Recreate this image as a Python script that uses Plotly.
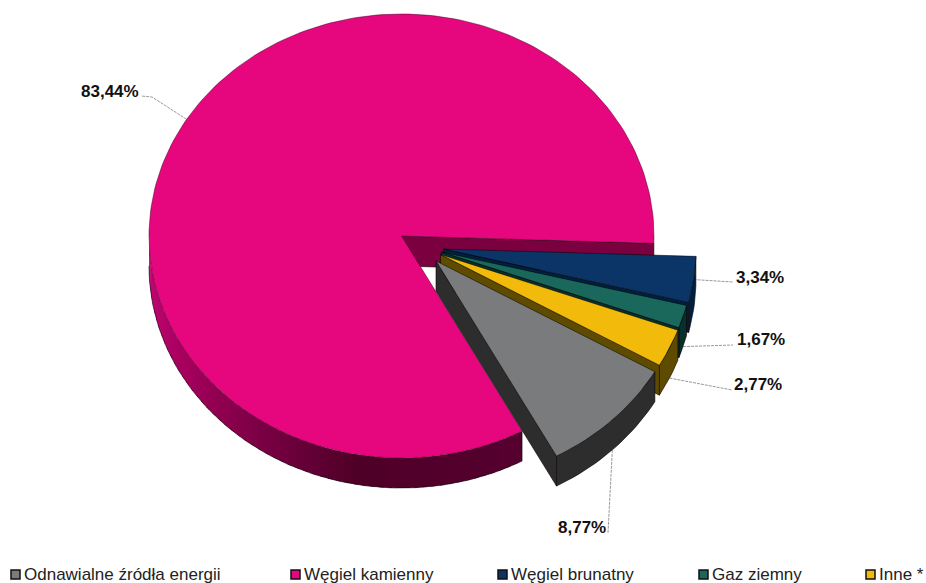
import math
import plotly.graph_objects as go

# Shares of electricity generation by source
slice_names = ["Węgiel kamienny", "Odnawialne źródła energii", "Inne *", "Gaz ziemny", "Węgiel brunatny"]
slice_values = [83.44, 8.77, 2.77, 1.67, 3.34]
top_colors = ["#E6077F", "#7A7B7D", "#F2BA0B", "#1A675C", "#0A3566"]
wall_colors = ["#7A0040", "#2D2D2D", "#5F4B00", "#07302A", "#01203F"]
legend_order = ["Odnawialne źródła energii", "Węgiel kamienny", "Węgiel brunatny", "Gaz ziemny", "Inne *"]

# Projected pie geometry, in page pixels
CX, CY, RX, RY, DEPTH = 401.5, 236, 252.5, 222, 30
START_ANGLE = 1.9
PULL = [(0, 0), (34.5, 25), (39, 18.5), (40, 16), (42, 13)]
FONT = "Liberation Sans, Arial, sans-serif"
EDGE = "rgba(10,0,5,0.75)"

# Shade of the large slice's outer wall, by angle
wall_stops = [(60, "#560030"), (100, "#4E0027"), (120, "#740040"), (150, "#A8005F"), (180, "#C8087A")]


def arc(cx, cy, a0, a1, drop=0, steps=None):
    steps = steps or max(2, int(abs(a1 - a0) / 1.5))
    pts = []
    for i in range(steps + 1):
        a = math.radians(a0 + (a1 - a0) * i / steps)
        pts.append((cx + RX * math.cos(a), cy + RY * math.sin(a) + drop))
    return pts


def polygon(fig, pts, color, edge=EDGE, width=0.8):
    fig.add_trace(go.Scatter(
        x=[p[0] for p in pts] + [pts[0][0]],
        y=[p[1] for p in pts] + [pts[0][1]],
        mode="lines", fill="toself", fillcolor=color,
        line=dict(color=edge, width=width),
        hoverinfo="skip", showlegend=False,
    ))


def mix(c0, c1, t):
    a = [int(c0[i:i + 2], 16) for i in (1, 3, 5)]
    b = [int(c1[i:i + 2], 16) for i in (1, 3, 5)]
    return "#" + "".join(f"{round(x + (y - x) * t):02x}" for x, y in zip(a, b))


def wall_shade(angle):
    for (p, c0), (q, c1) in zip(wall_stops, wall_stops[1:]):
        if angle <= q:
            return mix(c0, c1, max(0.0, (angle - p) / (q - p)))
    return wall_stops[-1][1]


# Angles run clockwise on screen; slices are laid out counter-clockwise from the start
total = sum(slice_values)
spans = []
angle = START_ANGLE
for v in slice_values:
    sweep = v / total * 360
    spans.append((angle - sweep, angle))
    angle -= sweep

fig = go.Figure()

# Leader lines, running from each slice to its percentage label
leaders = [
    (0, 0, [(152, 97), (141, 96)], (109.5, 91)),
    (1, DEPTH, [(610, 498), (608, 533)], (582, 527)),
    (2, DEPTH, [(732, 390)], (757.5, 384)),
    (3, DEPTH, [(733, 345)], (760.5, 339)),
    (4, 0, [(733, 282)], (759.5, 277)),
]
for idx, drop, route, _ in leaders:
    a0, a1 = spans[idx]
    mid = math.radians((a0 + a1) / 2)
    dx, dy = PULL[idx]
    sx = CX + dx + RX * math.cos(mid)
    sy = CY + dy + RY * math.sin(mid) + drop
    pts = [(sx, sy)] + route
    fig.add_trace(go.Scatter(
        x=[p[0] for p in pts], y=[p[1] for p in pts], mode="lines",
        line=dict(color="#999999", width=1, dash="3px,1px"),
        hoverinfo="skip", showlegend=False,
    ))

# Large slice: outer wall shaded by angle, inner wall, then the top face
a0, a1 = spans[0]
wall_start, wall_end = a0 + 360, 180
n = 60
for i in range(n, 0, -1):
    s = wall_start + (wall_end - wall_start) * (i - 1) / n
    e = wall_start + (wall_end - wall_start) * i / n
    # each strip runs on a little under the next one so no seams show
    s_over = max(wall_start, s - 1.0)
    pts = arc(CX, CY, s_over, e, 0, 3) + arc(CX, CY, e, s_over, DEPTH, 3)
    polygon(fig, pts, wall_shade((s + e) / 2), edge="rgba(0,0,0,0)", width=0)
front = arc(CX, CY, wall_start, wall_start, 0, 1)[0]
outline = [front] + arc(CX, CY, wall_start, wall_end, DEPTH)
fig.add_trace(go.Scatter(
    x=[p[0] for p in outline], y=[p[1] for p in outline],
    mode="lines", line=dict(color=EDGE, width=0.8), hoverinfo="skip", showlegend=False,
))
corner = arc(CX, CY, a1, a1, 0, 1)[0]
polygon(fig, [(CX, CY), corner, (corner[0], corner[1] + DEPTH), (CX, CY + DEPTH)], wall_colors[0])
polygon(fig, [(CX, CY)] + arc(CX, CY, a1, a0), top_colors[0], edge="rgba(70,0,35,0.7)", width=0.7)

# Pulled-out slices, from the back to the front
for idx in (4, 3, 2, 1):
    a0, a1 = spans[idx]
    dx, dy = PULL[idx]
    cx, cy = CX + dx, CY + dy
    # outer wall
    polygon(fig, arc(cx, cy, a0, a1) + arc(cx, cy, a1, a0, DEPTH), wall_colors[idx])
    # cut wall on the lower side
    end = arc(cx, cy, a1, a1, 0, 1)[0]
    polygon(fig, [(cx, cy), end, (end[0], end[1] + DEPTH), (cx, cy + DEPTH)], wall_colors[idx])
    # top face
    polygon(fig, [(cx, cy)] + arc(cx, cy, a0, a1), top_colors[idx], edge="rgba(0,0,0,0.7)", width=0.7)

# Percentage labels
for idx, _, _, (lx, ly) in leaders:
    fig.add_annotation(
        x=lx, y=ly, xref="x", yref="y", showarrow=False,
        text=f"<b>{slice_values[idx]:.2f}%</b>".replace(".", ","),
        font=dict(family=FONT, size=17, color="#111111"),
    )

# Legend row
legend_x = [11, 291, 498, 699, 866]
for name, x in zip(legend_order, legend_x):
    color = top_colors[slice_names.index(name)]
    fig.add_shape(type="rect", x0=x, x1=x + 9, y0=570, y1=579, xref="x", yref="y",
                  fillcolor=color, line=dict(color="#111111", width=1.5))
    fig.add_annotation(x=x + 13, y=574.5, xref="x", yref="y", showarrow=False, xanchor="left",
                       text=name, font=dict(family=FONT, size=17, color="#222222"),
                       borderpad=0, xshift=-1)

fig.update_layout(
    width=926, height=583, margin=dict(l=0, r=0, t=0, b=0),
    paper_bgcolor="white", plot_bgcolor="white", showlegend=False,
    xaxis=dict(range=[0, 926], visible=False, fixedrange=True),
    yaxis=dict(range=[583, 0], visible=False, fixedrange=True),
)
fig.write_html("out.html", config={"displayModeBar": False})
